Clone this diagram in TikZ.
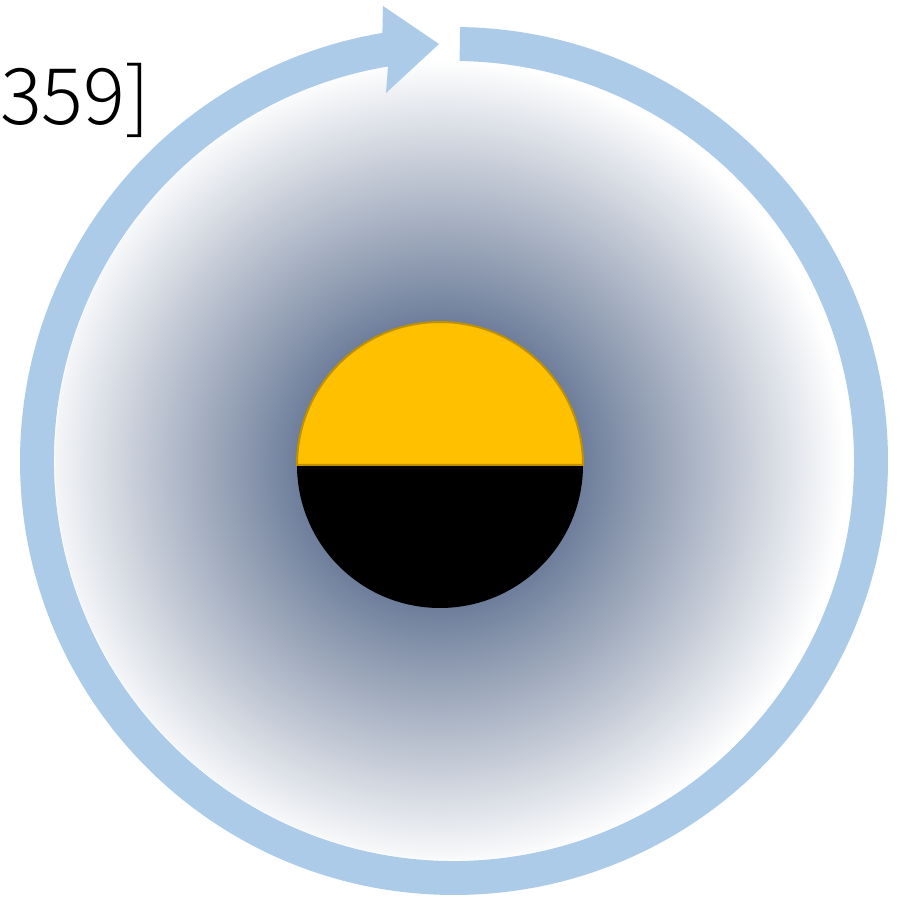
\documentclass[tikz,border=0pt]{standalone}
\usepackage{fontspec}
\usetikzlibrary{calc}
\newfontfamily\labelfont{Noto Sans CJK JP Light}
\definecolor{ringblue}{RGB}{171,203,232}
\definecolor{glowcenter}{RGB}{31,56,100}
\definecolor{sunyellow}{RGB}{255,192,0}
\definecolor{sunedge}{RGB}{191,144,0}
\pgfdeclareradialshading{glow}{\pgfpointorigin}{color(0bp)=(glowcenter); color(25bp)=(white); color(50bp)=(white)}
\tikzset{
  ringstyle/.style={fill=ringblue, draw=none},
  labelstyle/.style={font=\labelfont\fontsize{78}{78}\selectfont, inner sep=0pt, anchor=base west, text=black}
}
\begin{document}
\begin{tikzpicture}[x=1pt,y=1pt]
\useasboundingbox (0,0) rectangle (909,907);
\fill[white] (0,0) rectangle (909,907);
% shaded disc
\begin{scope}
  \clip (454,446) circle (399);
  \shade[shading=glow] (440,442) circle (405);
\end{scope}
% circular arrow
\fill[ringstyle] (454,446) ++(89.2:434) arc[start angle=89.2, end angle=-260.5, radius=434]
  -- (383,901) -- (439,863) -- (386,814)
  -- ($(454,446)+(-260.5:400)$) arc[start angle=-260.5, end angle=89.2, radius=400] -- cycle;
% central sphere
\fill[black] (297,442) arc[start angle=180, end angle=360, radius=143] -- cycle;
\filldraw[fill=sunyellow, draw=sunedge, line width=2pt] (297,442) arc[start angle=180, end angle=0, radius=143] -- cycle;
% label
\node[labelstyle] (lbl) at (0,782) {359]};
\end{tikzpicture}
\end{document}
